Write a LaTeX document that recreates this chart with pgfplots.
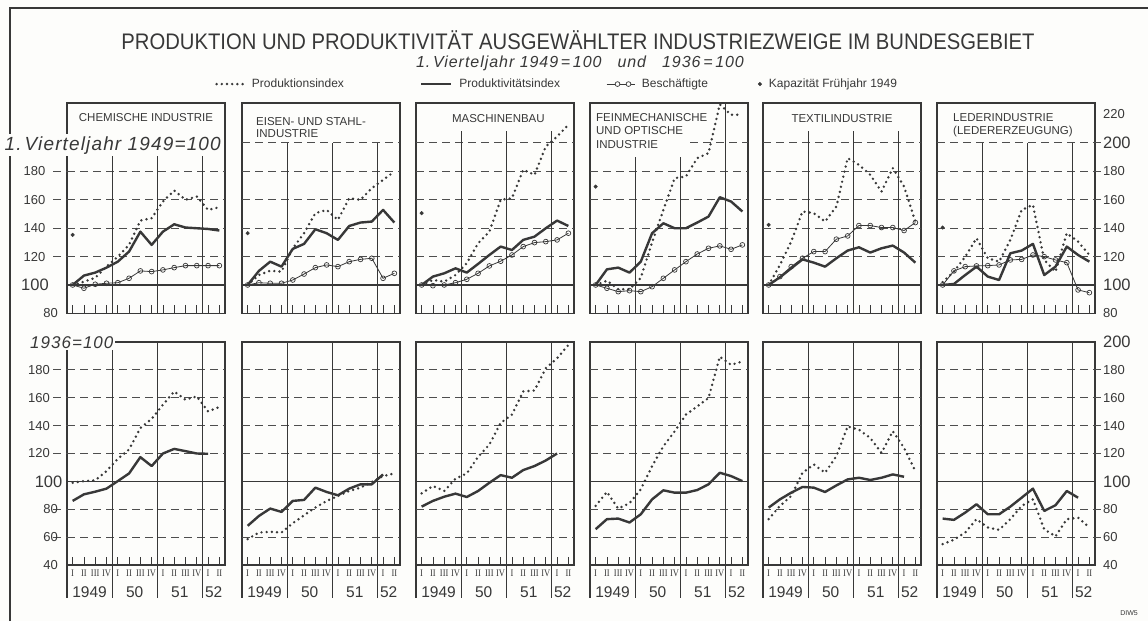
\documentclass[border=0pt]{standalone}
\usepackage{fontspec}
\setmainfont{Liberation Sans}
\newfontfamily\romfont[FakeStretch=0.85]{Liberation Serif}
\newfontfamily\titlefont[FakeStretch=0.9]{Liberation Sans}
\usepackage{pgfplots}
\pgfplotsset{compat=1.18}
\definecolor{ink}{HTML}{383838}
\definecolor{gridc}{HTML}{4E4E4E}
\definecolor{paper}{HTML}{FDFDFB}

\tikzset{
  prodline/.style={ink, line width=2.7pt, dash pattern=on 0pt off 5.2pt, line cap=round},
  prodkline/.style={ink, line width=2.4pt, line join=round},
  beschline/.style={ink, line width=0.8pt, mark=o, mark size=2.4pt, mark options={solid, fill=paper, line width=0.7pt}},
  gridd/.style={gridc, line width=0.9pt, dash pattern=on 8pt off 5pt},
  hundred/.style={ink, line width=1.4pt},
  yearl/.style={ink, line width=1.2pt},
  ptitle/.style={font=\fontsize{11.5}{13}\selectfont, text=ink, inner sep=0pt, anchor=base},
  ylab/.style={font=\fontsize{13}{13}\selectfont, text=ink, inner sep=0pt},
  ybig/.style={font=\fontsize{16.5}{17}\selectfont, text=ink, inner sep=0pt},
  yrlab/.style={font=\fontsize{15.5}{16}\selectfont, text=ink, anchor=base, inner sep=0pt},
}
\pgfplotsset{
  panel/.style={
    scale only axis, width=158pt, xmin=0, xmax=14, clip=false,
    axis line style={ink, line width=1.3pt},
    ytick=\empty,
    xtick={0.5,1.5,...,13.5}, xtick pos=left, tick align=inside,
    major tick length=8pt, tick style={ink, line width=0.7pt},
  },
  toppanel/.style={panel, height=210.4pt, ymin=80, ymax=228, xticklabels={}},
  botpanel/.style={panel, height=223pt, ymin=40, ymax=200,
    xticklabels={I,II,III,IV,I,II,III,IV,I,II,III,IV,I,II},
    xticklabel style={font=\romfont\fontsize{10}{10}\selectfont, text=ink, inner sep=0pt, anchor=north, yshift=-5pt},
  },
}
% dashed grid, 100 line and year lines of an upper panel
\newcommand{\topgrid}[2]{%
  \pgfplotsinvokeforeach{#1}{\draw[gridd] (axis cs:0,##1) -- (axis cs:14,##1);}
  \draw[hundred] (axis cs:0,100) -- (axis cs:14,100);
  \pgfplotsinvokeforeach{4,8,12}{\draw[yearl] (axis cs:##1,80) -- (axis cs:##1,#2);}
}
% same for a lower panel, with the year strip below it
\newcommand{\botgrid}{%
  \pgfplotsinvokeforeach{60,80,120,140,160,180}{\draw[gridd] (axis cs:0,##1) -- (axis cs:14,##1);}
  \draw[hundred] (axis cs:0,100) -- (axis cs:14,100);
  \pgfplotsinvokeforeach{4,8,12}{\draw[yearl] (axis cs:##1,200) -- (axis cs:##1,16.3);}
  \draw[yearl] (axis cs:0,40) -- (axis cs:0,16.3);
  \node[yrlab] at (axis cs:2,16.8) {1949};
  \node[yrlab] at (axis cs:6,16.8) {50};
  \node[yrlab] at (axis cs:10,16.8) {51};
  \node[yrlab] at (axis cs:13,16.8) {52};
}

\begin{document}
\begin{tikzpicture}
\useasboundingbox (0,0) rectangle (1148pt,-621pt);
\fill[paper] (0,0) rectangle (1148pt,-621pt);
\draw[ink, line width=1.2pt] (10pt,-621pt) -- (10pt,-8pt) -- (1148pt,-8pt);

\node[font=\titlefont\fontsize{22.5}{23}\selectfont, text=ink] at (578pt,-40pt) {PRODUKTION UND PRODUKTIVITÄT AUSGEWÄHLTER INDUSTRIEZWEIGE IM BUNDESGEBIET};
\node[font=\itshape\fontsize{16}{16}\selectfont\addfontfeature{LetterSpace=6}, text=ink] at (580pt,-63pt) {1.\,Vierteljahr 1949\,=\,100\hspace{16pt}und\hspace{16pt}1936\,=\,100};
\node[font=\fontsize{7}{7}\selectfont, text=ink] at (1129pt,-613pt) {DIW5};

% ---------------- upper row: 1. Vierteljahr 1949 = 100
\begin{axis}[toppanel, at={(67pt,-313.4pt)}, anchor=south west,
  legend style={at={(0.937,1.09)}, anchor=west, draw=none, fill=none, inner sep=0pt,
    legend columns=4, font=\fontsize{12}{12}\selectfont, text=ink,
    /tikz/every odd column/.append style={column sep=5pt}},
  legend cell align=left]
\topgrid{120,140,160,180}{191}
\pgfplotsinvokeforeach{120,140,160,180}{\draw[gridd] (axis cs:-1.2,#1) -- (axis cs:0,#1);}
\node[ylab, anchor=east] at (axis cs:-1.9,180) {180};
\node[ylab, anchor=east] at (axis cs:-1.9,160) {160};
\node[ylab, anchor=east] at (axis cs:-1.9,140) {140};
\node[ylab, anchor=east] at (axis cs:-1.9,120) {120};
\node[ybig, anchor=east] at (axis cs:-1.6,100) {100};
\node[ylab, anchor=east] at (axis cs:-0.8,80) {80};
\node[ptitle] at (axis cs:7,214.9) {CHEMISCHE INDUSTRIE};
\addplot[prodline, legend image code/.code={\draw[ink, line width=2.7pt, dash pattern=on 0pt off 5.2pt, line cap=round] (0pt,0pt) -- (27pt,0pt);}]
  coordinates {(0.5,100) (1.5,102.3) (2.5,105) (3.5,112.9) (4.5,119.9) (5.5,128.2) (6.5,145.3) (7.5,147) (8.5,158.7) (9.5,166.4) (10.5,159.9) (11.5,162.2) (12.5,152.8) (13.5,154.7)};
\addlegendentry{Produktionsindex\rule{74pt}{0pt}}
\addplot[prodkline, legend image code/.code={\draw[ink, line width=2.4pt] (0pt,0pt) -- (30pt,0pt);}]
  coordinates {(0.5,100) (1.5,106.6) (2.5,108.7) (3.5,112.2) (4.5,116.4) (5.5,123.5) (6.5,137.5) (7.5,128.2) (8.5,137.5) (9.5,142.7) (10.5,140.4) (11.5,139.9) (12.5,139.4) (13.5,138.3)};
\addlegendentry{Produktivitätsindex\rule{44pt}{0pt}}
\addplot[beschline, legend image code/.code={\draw[ink, line width=0.8pt] (0pt,0pt) -- (28pt,0pt); \draw[ink, fill=paper, line width=0.7pt] (11pt,0pt) circle (2.4pt) (22pt,0pt) circle (2.4pt);}]
  coordinates {(0.5,100) (1.5,97.7) (2.5,100.5) (3.5,101.2) (4.5,101.6) (5.5,104.7) (6.5,109.9) (7.5,109.4) (8.5,110.6) (9.5,112.2) (10.5,113.6) (11.5,113.6) (12.5,113.6) (13.5,113.6)};
\addlegendentry{Beschäftigte\rule{48pt}{0pt}}
\addplot[only marks, mark=*, mark size=1.8pt, ink, legend image code/.code={\fill[ink] (3pt,0pt) circle (1.8pt);}]
  coordinates {(0.5,135.2)};
\addlegendentry{Kapazität Frühjahr 1949}
\end{axis}

\begin{axis}[toppanel, at={(242pt,-313.4pt)}, anchor=south west]
\topgrid{120,140,160,180,200}{200}
\node[ptitle, anchor=base west] at (axis cs:1.24,212.5) {EISEN- UND STAHL-};
\node[ptitle, anchor=base west] at (axis cs:1.24,203.9) {INDUSTRIE};
\addplot[prodline] coordinates {(0.5,100) (1.5,107) (2.5,110) (3.5,109.4) (4.5,125.8) (5.5,136.4) (6.5,150.5) (7.5,152.8) (8.5,145.8) (9.5,161) (10.5,159.9) (11.5,168.1) (12.5,173.9) (13.5,179.8)};
\addplot[prodkline] coordinates {(0.5,100) (1.5,109.9) (2.5,116.4) (3.5,112.9) (4.5,125.4) (5.5,128.9) (6.5,139.2) (7.5,136.4) (8.5,131.7) (9.5,141.5) (10.5,143.9) (11.5,144.6) (12.5,152.8) (13.5,143.9)};
\addplot[beschline] coordinates {(0.5,100) (1.5,101.6) (2.5,101.2) (3.5,101.2) (4.5,103.5) (5.5,107.7) (6.5,112.2) (7.5,114.1) (8.5,112.9) (9.5,116.4) (10.5,118) (11.5,118.8) (12.5,104.7) (13.5,108.2)};
\addplot[only marks, mark=*, mark size=1.8pt, ink] coordinates {(0.5,136.4)};
\end{axis}

\begin{axis}[toppanel, at={(416pt,-313.4pt)}, anchor=south west]
\topgrid{120,140,160,180,200}{208}
\node[ptitle] at (axis cs:7.3,214) {MASCHINENBAU};
\addplot[prodline] coordinates {(0.5,100) (1.5,103.5) (2.5,102.3) (3.5,107) (4.5,115.3) (5.5,129.3) (6.5,137.5) (7.5,159.9) (8.5,161) (9.5,181) (10.5,177.5) (11.5,197.4) (12.5,204.4) (13.5,212.7)};
\addplot[prodkline] coordinates {(0.5,100) (1.5,105.9) (2.5,108.2) (3.5,111.7) (4.5,108.7) (5.5,114.8) (6.5,121.1) (7.5,127) (8.5,124.6) (9.5,131.7) (10.5,134) (11.5,139.9) (12.5,145.3) (13.5,141.5)};
\addplot[beschline] coordinates {(0.5,100) (1.5,99.5) (2.5,100) (3.5,101.6) (4.5,104) (5.5,108.2) (6.5,113.4) (7.5,116.7) (8.5,121.1) (9.5,127) (10.5,129.8) (11.5,130.5) (12.5,131.7) (13.5,136.4)};
\addplot[only marks, mark=*, mark size=1.8pt, ink] coordinates {(0.5,150.5)};
\end{axis}

\begin{axis}[toppanel, at={(590pt,-313.4pt)}, anchor=south west]
\topgrid{120,140,160,180}{190}
\draw[gridd] (axis cs:8.86,200) -- (axis cs:14,200);
\draw[yearl] (axis cs:12,190) -- (axis cs:12,228);
\node[ptitle, anchor=base west] at (axis cs:0.53,214.9) {FEINMECHANISCHE};
\node[ptitle, anchor=base west] at (axis cs:0.53,205.5) {UND OPTISCHE};
\node[ptitle, anchor=base west] at (axis cs:0.53,196.1) {INDUSTRIE};
\addplot[prodline] coordinates {(0.5,100) (1.5,103) (2.5,97) (3.5,97) (4.5,105) (5.5,130) (6.5,152.8) (7.5,175.1) (8.5,176.3) (9.5,189.2) (10.5,192.7) (11.5,227) (12.5,219.7) (13.5,219.7)};
\addplot[prodkline] coordinates {(0.5,100) (1.5,111) (2.5,112.2) (3.5,108.7) (4.5,116.4) (5.5,136.4) (6.5,143.4) (7.5,139.9) (8.5,139.9) (9.5,143.9) (10.5,148.1) (11.5,161.7) (12.5,158.7) (13.5,151.7)};
\addplot[beschline] coordinates {(0.5,100) (1.5,97.7) (2.5,95.3) (3.5,96) (4.5,95.3) (5.5,98.8) (6.5,104.7) (7.5,110.6) (8.5,116.4) (9.5,121.8) (10.5,125.8) (11.5,127.5) (12.5,125.1) (13.5,128.2)};
\addplot[only marks, mark=*, mark size=1.8pt, ink] coordinates {(0.5,169.2)};
\end{axis}

\begin{axis}[toppanel, at={(763pt,-313.4pt)}, anchor=south west]
\topgrid{120,140,160,180,200}{208}
\node[ptitle] at (axis cs:7,214) {TEXTILINDUSTRIE};
\addplot[prodline] coordinates {(0.5,100) (1.5,114.1) (2.5,130.5) (3.5,151.7) (4.5,150.5) (5.5,144.6) (6.5,155.2) (7.5,189.2) (8.5,184.5) (9.5,177.5) (10.5,165.7) (11.5,182.2) (12.5,169.2) (13.5,144.6)};
\addplot[prodkline] coordinates {(0.5,100) (1.5,105.4) (2.5,111.7) (3.5,118) (4.5,115.7) (5.5,112.9) (6.5,118.8) (7.5,124.2) (8.5,126.5) (9.5,122.8) (10.5,125.8) (11.5,127.7) (12.5,122.8) (13.5,115.7)};
\addplot[beschline] coordinates {(0.5,100) (1.5,105.9) (2.5,112.9) (3.5,118.8) (4.5,123.5) (5.5,123.5) (6.5,132.2) (7.5,134.5) (8.5,141.8) (9.5,141.8) (10.5,140.4) (11.5,140.4) (12.5,138.3) (13.5,143.9)};
\addplot[only marks, mark=*, mark size=1.8pt, ink] coordinates {(0.5,142.3)};
\end{axis}

\begin{axis}[toppanel, at={(937pt,-313.4pt)}, anchor=south west]
\topgrid{120,140,160,180,200}{200}
\pgfplotsinvokeforeach{120,140,160,180,200}{\draw[gridd] (axis cs:14,#1) -- (axis cs:14.5,#1);}
\node[ptitle, anchor=base west] at (axis cs:1.42,214.9) {LEDERINDUSTRIE};
\node[ptitle, anchor=base west] at (axis cs:1.42,205.5) {(LEDERERZEUGUNG)};
\node[ylab, anchor=west] at (axis cs:14.7,220) {220};
\node[ybig, anchor=west] at (axis cs:14.7,200) {200};
\node[ylab, anchor=west] at (axis cs:14.7,180) {180};
\node[ylab, anchor=west] at (axis cs:14.7,160) {160};
\node[ylab, anchor=west] at (axis cs:14.7,140) {140};
\node[ylab, anchor=west] at (axis cs:14.7,120) {120};
\node[ybig, anchor=west] at (axis cs:14.7,100) {100};
\node[ylab, anchor=west] at (axis cs:14.7,80) {80};
\addplot[prodline] coordinates {(0.5,102) (1.5,109.4) (2.5,119.9) (3.5,132.9) (4.5,118.8) (5.5,116.4) (6.5,131.7) (7.5,152.8) (8.5,156.3) (9.5,117.6) (10.5,109.4) (11.5,136.4) (12.5,130.5) (13.5,121.1)};
\addplot[prodkline] coordinates {(0.5,100) (1.5,100.7) (2.5,107) (3.5,112.9) (4.5,105.9) (5.5,103.5) (6.5,122.3) (7.5,124.2) (8.5,128.9) (9.5,107) (10.5,112.9) (11.5,127) (12.5,121.1) (13.5,116.4)};
\addplot[beschline] coordinates {(0.5,100) (1.5,109.9) (2.5,112.9) (3.5,113.4) (4.5,113.6) (5.5,114.1) (6.5,117.6) (7.5,118) (8.5,121.1) (9.5,119.9) (10.5,117.6) (11.5,115.7) (12.5,96.5) (13.5,94.6)};
\addplot[only marks, mark=*, mark size=1.8pt, ink] coordinates {(0.5,140.4)};
\end{axis}

% ---------------- lower row: 1936 = 100
\begin{axis}[botpanel, at={(67pt,-565pt)}, anchor=south west]
\botgrid
\pgfplotsinvokeforeach{60,80,120,140,160,180}{\draw[gridd] (axis cs:-1.2,#1) -- (axis cs:0,#1);}
\node[ylab, anchor=east] at (axis cs:-1.5,180) {180};
\node[ylab, anchor=east] at (axis cs:-1.5,160) {160};
\node[ylab, anchor=east] at (axis cs:-1.5,140) {140};
\node[ylab, anchor=east] at (axis cs:-1.5,120) {120};
\node[ybig, anchor=east] at (axis cs:-0.4,100) {100};
\node[ylab, anchor=east] at (axis cs:-0.8,80) {80};
\node[ylab, anchor=east] at (axis cs:-0.8,60) {60};
\node[ylab, anchor=east] at (axis cs:-0.8,40) {40};
\addplot[prodline] coordinates {(0.5,99) (1.5,100.2) (2.5,100.7) (3.5,107.4) (4.5,116.2) (5.5,122.9) (6.5,138.3) (7.5,144.8) (8.5,155) (9.5,164.5) (10.5,158.6) (11.5,161) (12.5,150.2) (13.5,153.3)};
\addplot[prodkline] coordinates {(0.5,86) (1.5,90.7) (2.5,92.6) (3.5,94.8) (4.5,100.2) (5.5,105.7) (6.5,117.4) (7.5,111) (8.5,120) (9.5,123.3) (10.5,121.7) (11.5,120) (12.5,119.8)};
\end{axis}

\begin{axis}[botpanel, at={(242pt,-565pt)}, anchor=south west]
\botgrid
\addplot[prodline] coordinates {(0.5,58.6) (1.5,63.3) (2.5,63.8) (3.5,63.3) (4.5,70) (5.5,75.7) (6.5,81.2) (7.5,86) (8.5,89.5) (9.5,93.1) (10.5,95.5) (11.5,99.5) (12.5,103.8) (13.5,105.7)};
\addplot[prodkline] coordinates {(0.5,68.1) (1.5,75.2) (2.5,80.5) (3.5,78.1) (4.5,86) (5.5,86.7) (6.5,95.5) (7.5,92.4) (8.5,90) (9.5,94.8) (10.5,97.9) (11.5,97.9) (12.5,105)};
\end{axis}

\begin{axis}[botpanel, at={(416pt,-565pt)}, anchor=south west]
\botgrid
\addplot[prodline] coordinates {(0.5,91.4) (1.5,96.7) (2.5,93.1) (3.5,101.9) (4.5,105.7) (5.5,117.6) (6.5,126.4) (7.5,141.9) (8.5,147.9) (9.5,164.5) (10.5,165.2) (11.5,181.2) (12.5,188.3) (13.5,197.9)};
\addplot[prodkline] coordinates {(0.5,81.9) (1.5,86) (2.5,89) (3.5,91.2) (4.5,88.8) (5.5,93.1) (6.5,99) (7.5,104.5) (8.5,102.6) (9.5,108.1) (10.5,111) (11.5,115) (12.5,120)};
\end{axis}

\begin{axis}[botpanel, at={(590pt,-565pt)}, anchor=south west]
\botgrid
\addplot[prodline] coordinates {(0.5,82.4) (1.5,92.4) (2.5,80.5) (3.5,84.3) (4.5,94.3) (5.5,110.9) (6.5,125.2) (7.5,135.9) (8.5,147.9) (9.5,153.8) (10.5,159.8) (11.5,189.5) (12.5,183.6) (13.5,186)};
\addplot[prodkline] coordinates {(0.5,65.7) (1.5,72.9) (2.5,73.3) (3.5,70.5) (4.5,76.4) (5.5,87.1) (6.5,93.6) (7.5,91.9) (8.5,91.9) (9.5,93.8) (10.5,97.9) (11.5,106.2) (12.5,103.8) (13.5,100.2)};
\end{axis}

\begin{axis}[botpanel, at={(763pt,-565pt)}, anchor=south west]
\botgrid
\addplot[prodline] coordinates {(0.5,72.9) (1.5,82.4) (2.5,89.5) (3.5,106.2) (4.5,112.1) (5.5,106.2) (6.5,118.1) (7.5,139.5) (8.5,137.1) (9.5,131.2) (10.5,120.5) (11.5,136) (12.5,124) (13.5,107.4)};
\addplot[prodkline] coordinates {(0.5,81.2) (1.5,87.1) (2.5,91.9) (3.5,96) (4.5,95.5) (5.5,92.4) (6.5,97.1) (7.5,101.4) (8.5,102.6) (9.5,101) (10.5,102.6) (11.5,105) (12.5,103.3)};
\end{axis}

\begin{axis}[botpanel, at={(937pt,-565pt)}, anchor=south west]
\botgrid
\pgfplotsinvokeforeach{60,80,120,140,160,180}{\draw[gridd] (axis cs:14,#1) -- (axis cs:14.5,#1);}
\node[ybig, anchor=west] at (axis cs:14.7,200) {200};
\node[ylab, anchor=west] at (axis cs:14.7,180) {180};
\node[ylab, anchor=west] at (axis cs:14.7,160) {160};
\node[ylab, anchor=west] at (axis cs:14.7,140) {140};
\node[ylab, anchor=west] at (axis cs:14.7,120) {120};
\node[ybig, anchor=west] at (axis cs:14.7,100) {100};
\node[ylab, anchor=west] at (axis cs:14.7,80) {80};
\node[ylab, anchor=west] at (axis cs:14.7,60) {60};
\node[ylab, anchor=west] at (axis cs:14.7,40) {40};
\addplot[prodline] coordinates {(0.5,55) (1.5,58.1) (2.5,63.3) (3.5,72.9) (4.5,66.9) (5.5,65.2) (6.5,72.9) (7.5,82.4) (8.5,87.1) (9.5,65.7) (10.5,60.5) (11.5,72.9) (12.5,74) (13.5,66.9)};
\addplot[prodkline] coordinates {(0.5,73.3) (1.5,72.4) (2.5,77.6) (3.5,83.6) (4.5,76.4) (5.5,76.4) (6.5,81.9) (7.5,88.3) (8.5,94.8) (9.5,78.8) (10.5,82.9) (11.5,93.1) (12.5,88.3)};
\end{axis}

% scale notes, set on a paper ground over the panel corners
\node[font=\itshape\fontsize{19}{19}\selectfont\addfontfeature{LetterSpace=6}, text=ink, fill=paper, anchor=base east, inner sep=2pt] at (223pt,-150pt) {1.\,Vierteljahr 1949=100};
\node[font=\itshape\fontsize{17}{17}\selectfont\addfontfeature{LetterSpace=6}, text=ink, fill=paper, anchor=base west, inner sep=2pt] at (28pt,-348pt) {1936=100};
\end{tikzpicture}
\end{document}
